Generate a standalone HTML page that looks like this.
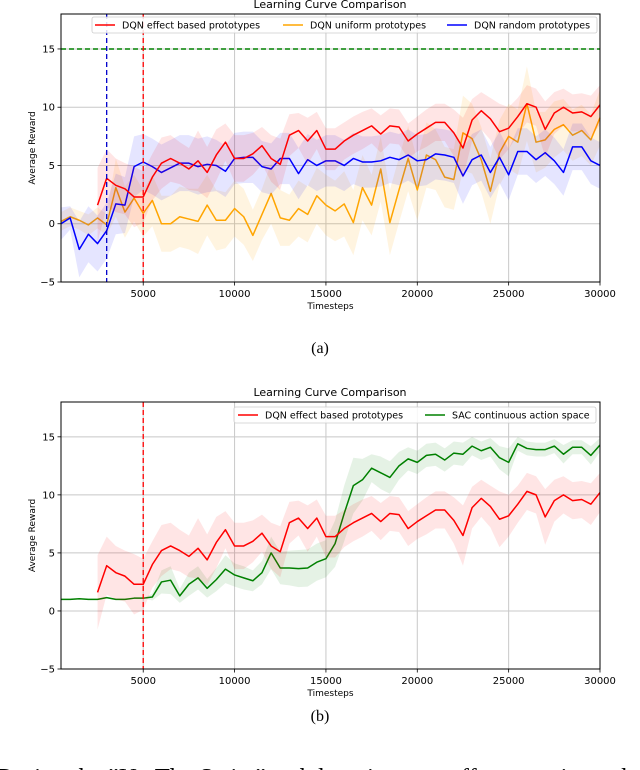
<!DOCTYPE html>
<html><head><meta charset="utf-8"><style>
body{margin:0;background:#fff;width:640px;height:770px;overflow:hidden}
svg{display:block;font-family:"DejaVu Sans","Liberation Sans",sans-serif}
</style></head><body>
<svg id="s" width="640" height="770"></svg>
<script>
const xs = [];
const redVals = [1.6,3.9,3.3,3.0,2.3,2.3,4.0,5.2,5.6,5.2,4.7,5.4,4.4,5.9,7.0,5.6,5.6,6.0,6.7,5.6,5.1,7.6,8.0,7.1,8.0,6.4,6.4,7.1,7.6,8.0,8.4,7.7,8.4,8.3,7.1,7.7,8.2,8.7,8.7,7.8,6.5,8.9,9.7,9.0,7.9,8.2,9.2,10.3,10.0,8.1,9.5,10.0,9.5,9.6,9.2,10.2];
const redStd = [3.2,2.5,2.3,2.2,2.6,2.2,2.0,2.2,2.0,1.8,1.8,2.6,2.2,2.2,1.6,2.0,2.0,1.8,1.6,2.0,2.2,1.8,1.5,2.0,1.6,1.8,1.8,1.6,1.6,1.6,1.5,1.6,1.5,1.5,1.5,1.5,1.6,1.6,1.6,2.0,2.6,1.8,1.6,1.8,2.4,1.8,1.6,1.6,1.6,2.4,1.8,1.6,1.6,1.6,1.8,1.7];
const orangeVals = [0.2,0.6,0.3,-0.1,0.5,-0.1,3.1,1.0,2.2,0.9,2.0,0.0,0.0,0.6,0.4,0.2,1.6,0.3,0.3,1.3,0.6,-1.0,0.8,2.6,0.5,0.3,1.3,0.8,2.4,1.6,1.1,1.7,0.1,3.1,1.6,4.7,0.1,2.9,5.6,2.9,5.9,5.5,4.0,3.8,7.8,7.3,5.5,2.8,6.1,7.5,7.0,10.3,7.0,7.2,8.1,8.5,7.6,8.0,7.2,9.1];
const orangeStd = [0.8,0.8,0.8,0.9,0.9,0.9,2.5,2.2,2.0,2.0,2.2,2.4,2.4,2.6,2.6,2.8,2.6,2.6,2.4,2.4,2.4,2.2,2.2,2.6,2.4,2.2,2.4,2.4,2.4,2.6,2.6,2.8,2.8,2.8,2.6,2.8,2.8,2.8,2.8,2.6,2.8,2.6,2.6,2.6,3.2,3.0,2.8,2.8,2.8,2.8,2.8,3.2,2.6,2.4,2.4,2.2,2.2,2.2,2.2,2.4];
const blueVals = [0.0,0.5,-2.2,-0.9,-1.7,-0.6,1.7,1.6,4.9,5.3,4.9,4.4,4.8,5.2,5.2,4.9,5.1,5.0,4.5,5.6,5.7,5.7,4.9,4.7,5.6,5.6,4.3,5.5,5.0,5.4,5.4,5.0,5.6,5.3,5.3,5.4,5.7,5.5,5.9,5.4,5.5,6.0,5.9,5.7,4.1,5.5,5.9,4.4,5.7,4.2,6.2,6.2,5.5,6.1,5.4,4.4,6.6,6.6,5.4,5.0];
const blueStd = [1.4,1.0,2.4,2.4,2.4,2.4,2.6,2.4,2.6,2.4,2.4,2.4,2.4,2.4,2.4,2.4,2.4,2.2,2.2,2.2,2.2,2.2,2.2,2.2,2.2,2.2,2.2,2.2,2.2,2.2,2.2,2.2,2.2,2.2,2.2,2.2,2.2,2.2,2.2,2.2,2.2,2.2,2.2,2.2,2.4,2.2,2.2,2.2,2.2,2.2,2.0,2.0,2.0,2.0,2.0,2.0,2.0,2.0,2.0,2.0];
const greenVals = [1.0,1.0,1.05,1.0,1.0,1.15,1.0,1.0,1.1,1.1,1.2,2.5,2.65,1.3,2.3,2.85,1.95,2.7,3.6,3.1,2.85,2.6,3.3,5.0,3.7,3.7,3.65,3.7,4.2,4.5,5.8,8.4,10.8,11.3,12.3,11.9,11.5,12.5,13.1,12.8,13.4,13.5,13.0,13.6,13.5,14.2,13.8,14.1,13.2,12.8,14.4,14.0,13.9,13.9,14.2,13.5,14.1,14.1,13.4,14.3];
const greenStd = [0,0,0,0,0,0,0,0,0,0,0.3,1.0,1.2,0.6,1.0,1.0,0.8,1.0,1.2,1.0,1.0,0.9,1.0,1.4,1.4,1.5,1.6,1.6,1.6,1.6,2.0,2.4,2.4,1.8,1.2,1.4,1.4,1.2,1.0,1.0,1.0,1.0,1.0,1.0,1.0,0.8,0.8,0.8,1.0,1.2,0.6,0.6,0.6,0.6,0.6,0.8,0.6,0.6,0.8,0.6];
const xTicks = [5000,10000,15000,20000,25000,30000];
const yTicks = [-5,0,5,10,15];
for (let t = 500; t <= 30000; t += 500) xs.push(t);

const NS = "http://www.w3.org/2000/svg";
const svg = document.getElementById('s');
function mk(tag, attrs, parent, text){
  const e = document.createElementNS(NS, tag);
  for (const k in attrs) e.setAttribute(k, attrs[k]);
  if (text !== undefined) e.textContent = text;
  (parent||svg).appendChild(e); return e;
}
const X0 = 61, X1 = 600, XMIN = 500, XMAX = 30000, YMIN = -5, YMAX = 18;
function makeAxes(top, bottom){
  const sx = v => X0 + (v - XMIN) / (XMAX - XMIN) * (X1 - X0);
  const sy = v => bottom - (v - YMIN) / (YMAX - YMIN) * (bottom - top);
  return {sx, sy};
}
function drawSeries(g, ax, vals, std, color, startIdx, bandOp, name){
  const pts = vals.map((v,i)=>[ax.sx(xs[i+startIdx]), ax.sy(v)]);
  const up = vals.map((v,i)=>[ax.sx(xs[i+startIdx]), ax.sy(v+std[i])]);
  const lo = vals.map((v,i)=>[ax.sx(xs[i+startIdx]), ax.sy(v-std[i])]).reverse();
  const band = mk('polygon', {points: up.concat(lo).map(p=>p.join(',')).join(' '), fill: color, 'fill-opacity': bandOp, stroke: 'none'}, g);
  
  
  const line = mk('polyline', {points: pts.map(p=>p.join(',')).join(' '), fill: 'none', stroke: color, 'stroke-width': 1.5, 'stroke-linejoin': 'round'}, g);
  
  
}
function drawFrame(top, bottom, ax, label){
  const g = mk('g', {});
  
  
  xTicks.forEach(t=>{
    const x = ax.sx(t);
    const gl = mk('line', {x1:x, x2:x, y1:top, y2:bottom, stroke:'#c8c8c8', 'stroke-width':1}, g);
    
    
    mk('line', {x1:x, x2:x, y1:bottom, y2:bottom+3.5, stroke:'#000', 'stroke-width':0.8}, g);
    const tl = mk('text', {x:x, y:bottom+15, 'font-size':10, 'text-anchor':'middle'}, g, String(t));
    
    
  });
  yTicks.forEach(t=>{
    const y = ax.sy(t);
    const gl = mk('line', {x1:X0, x2:X1, y1:y, y2:y, stroke:'#c8c8c8', 'stroke-width':1}, g);
    
    
    mk('line', {x1:X0-3.5, x2:X0, y1:y, y2:y, stroke:'#000', 'stroke-width':0.8}, g);
    const tl = mk('text', {x:X0-6, y:y+3.5, 'font-size':10, 'text-anchor':'end'}, g, (t<0?'\u2212':'')+Math.abs(t));
    
    
  });
  const xl = mk('text', {x:(X0+X1)/2, y:bottom+27, 'font-size':9, 'text-anchor':'middle'}, g, 'Timesteps');
  
  
  const cy = (top+bottom)/2;
  const yl = mk('text', {x:35, y:cy, 'font-size':9, 'text-anchor':'middle', transform:`rotate(-90 35 ${cy})`}, g, 'Average Reward');
  
  
  return g;
}
function legend(g, x, y, w, items){
  const lg = mk('g', {}, g);
  
  
  mk('rect', {x:x, y:y, width:w, height:16, rx:2, fill:'#fff', 'fill-opacity':0.85, stroke:'#ccc', 'stroke-width':0.8}, lg);
  items.forEach(it=>{
    const e = mk('g', {}, lg);
    
    
    mk('line', {x1:it[0], x2:it[0]+20, y1:y+8, y2:y+8, stroke:it[1], 'stroke-width':1.5}, e);
    mk('text', {x:it[0]+27, y:y+11.5, 'font-size':9.5}, e, it[2]);
  });
}
function spines(g, top, bottom){
  const r = mk('rect', {x:X0, y:top, width:X1-X0, height:bottom-top, fill:'none', stroke:'#000', 'stroke-width':1}, g);
  
  
}

// Chart (a)
{
  const top = 14, bottom = 282, ax = makeAxes(top, bottom);
  const t = mk('text', {x:330, y:8, 'font-size':11, 'text-anchor':'middle'}, svg, 'Learning Curve Comparison');
  
  
  const g = drawFrame(top, bottom, ax, 'a');
  drawSeries(g, ax, orangeVals, orangeStd, '#ffa500', 0, 0.12, 'orange');
  drawSeries(g, ax, blueVals, blueStd, '#0000ff', 0, 0.1, 'blue');
  drawSeries(g, ax, redVals, redStd, '#ff0000', 4, 0.1, 'red');
  const h = mk('line', {x1:X0, x2:X1, y1:ax.sy(15), y2:ax.sy(15), stroke:'#008000', 'stroke-width':1.5, 'stroke-dasharray':'5,3'}, g);
  
  
  const v1 = mk('line', {x1:ax.sx(3000), x2:ax.sx(3000), y1:top, y2:bottom, stroke:'#0000cc', 'stroke-width':1.3, 'stroke-dasharray':'5,3'}, g);
  
  
  const v2 = mk('line', {x1:ax.sx(5000), x2:ax.sx(5000), y1:top, y2:bottom, stroke:'#ff0000', 'stroke-width':1.3, 'stroke-dasharray':'5,3'}, g);
  
  
  spines(g, top, bottom);
  legend(g, 92, 17, 505, [[95,'#ff0000','DQN effect based prototypes'],[283,'#ffa500','DQN uniform prototypes'],[447,'#0000ff','DQN random prototypes']]);
  const c = mk('text', {x:320, y:353, 'font-size':16, 'text-anchor':'middle', 'font-family':'"Liberation Serif",serif'}, svg, '(a)');
  
  
}
// Chart (b)
{
  const top = 402, bottom = 669, ax = makeAxes(top, bottom);
  const t = mk('text', {x:330, y:396, 'font-size':11, 'text-anchor':'middle'}, svg, 'Learning Curve Comparison');
  
  
  const g = drawFrame(top, bottom, ax, 'b');
  drawSeries(g, ax, greenVals, greenStd, '#008000', 0, 0.1, 'green');
  drawSeries(g, ax, redVals, redStd, '#ff0000', 4, 0.1, 'red');
  const v2 = mk('line', {x1:ax.sx(5000), x2:ax.sx(5000), y1:top, y2:bottom, stroke:'#ff0000', 'stroke-width':1.3, 'stroke-dasharray':'5,3'}, g);
  
  
  spines(g, top, bottom);
  legend(g, 234, 407, 362, [[238,'#ff0000','DQN effect based prototypes'],[425,'#008000','SAC continuous action space']]);
  const c = mk('text', {x:320, y:721, 'font-size':16, 'text-anchor':'middle', 'font-family':'"Liberation Serif",serif'}, svg, '(b)');
  
  
}
const bt = mk('text', {x:-4, y:785, 'font-size':24, 'font-family':'"Liberation Serif",serif', textLength:650, lengthAdjust:'spacingAndGlyphs'}, svg, 'During the \u201dUp The Stairs\u201d task learning, our effect centric metho');


</script>
</body></html>
